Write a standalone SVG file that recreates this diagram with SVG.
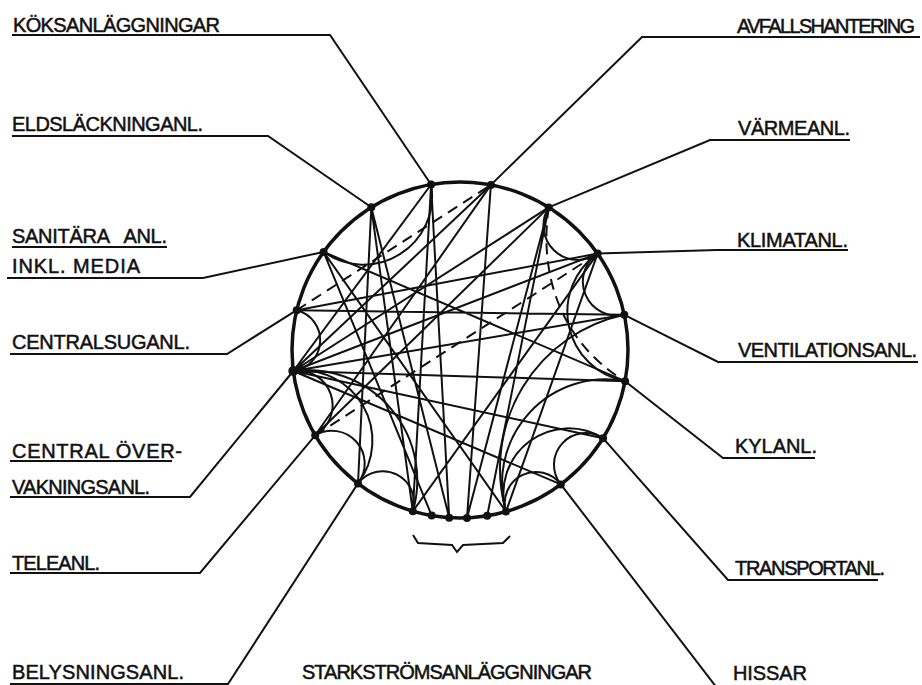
<svg xmlns="http://www.w3.org/2000/svg" width="922" height="685" viewBox="0 0 922 685">
<style>
.t{font-family:"Liberation Sans","DejaVu Sans",sans-serif;font-size:20px;fill:#111;stroke:#111;stroke-width:0.5;}
.ld{fill:none;stroke:#111;stroke-width:2;}
.c{fill:none;stroke:#111;stroke-width:2;}
.d{fill:none;stroke:#111;stroke-width:2;stroke-dasharray:11 7;}
.n{fill:#111;}
</style>
<rect width="922" height="685" fill="#fff"/>
<circle id="ring" cx="460" cy="350" r="168" fill="none" stroke="#111" stroke-width="3.5"/>
<g id="connectors">
<!-- hub chords -->
<path class="c" d="M293.3,371L431.1,184.5M293.3,371L490.9,184.9M293.3,371L548.7,207.4M293.3,371L597.6,253.6M293.3,371L624.3,314.8M293.3,371L625.1,381.2M293.3,371L603,438.2M293.3,371L560.8,484.4"/>
<!-- other chords -->
<path class="c" d="M323.6,251.9L431.7,515.6M323.6,251.9L506,511.6M323.6,251.9L625.1,381.2M371.3,207.3L358,483.4M371.3,207.3L449.2,517.7M371.3,207.3L412.8,511.3M431.1,184.5L449.2,517.7M431.1,184.5L412.8,511.3M490.9,184.9L467,517.9M490.9,184.9L315.2,435.3M548.7,207.4L487.2,515.8M548.7,207.4L467,517.9M548.7,207.4L315.2,435.3M597.6,253.6L412.8,511.3M597.6,253.6L506,511.6M597.6,253.6L296.7,310.2M624.3,314.8L296.7,310.2"/>
<!-- arcs -->
<path class="c" d="M323.6,251.9A68.6,68.6 0 0 0 431.1,184.5"/>
<path class="c" d="M293.3,371A31,31 0 0 0 296.7,310.2"/>
<path class="c" d="M315.2,435.3A34.6,34.6 0 0 0 293.3,371"/>
<path class="c" d="M358,483.4A32.8,32.8 0 0 0 315.2,435.3"/>
<path class="c" d="M412.8,511.3A31.3,31.3 0 0 0 358,483.4"/>
<path class="c" d="M358,483.4A70.3,70.3 0 0 0 293.3,371"/>
<path class="c" d="M412.8,511.3A110.1,110.1 0 0 0 293.3,371"/>
<path class="c" d="M548.7,207.4A34.3,34.3 0 0 0 597.6,253.6"/>
<path class="c" d="M597.6,253.6A34,34 0 0 0 624.3,314.8"/>
<path class="c" d="M597.6,253.6A70.8,70.8 0 0 0 625.1,381.2"/>
<path class="c" d="M625.1,381.2A103.7,103.7 0 0 0 506,511.6"/>
<path class="c" d="M603,438.2A65.1,65.1 0 0 0 506,511.6"/>
<path class="c" d="M560.8,484.4A31.1,31.1 0 0 0 506,511.6"/>
<path class="c" d="M603,438.2A31.7,31.7 0 0 0 560.8,484.4"/>
<path class="c" d="M624.3,314.8A157.3,157.3 0 0 0 506,511.6"/>
<!-- dashed -->
<path class="d" d="M296.7,310.2L490.9,184.9M315.2,435.3L597.6,253.6M548.7,207.4C538,280 565,345 625.1,381.2"/>
<!-- leaders -->
<path class="ld" d="M12,35H330L431.1,184.5"/>
<path class="ld" d="M12,136H268L371.3,207.3"/>
<path class="ld" d="M12,247H167M7,278H203L323.6,251.9"/>
<path class="ld" d="M10,354H227L296.7,310.2"/>
<path class="ld" d="M10,461H172M10,497H190L293.3,371"/>
<path class="ld" d="M10,573H200L315.2,435.3"/>
<path class="ld" d="M10,684H228L358,483.4"/>
<path class="ld" d="M920,37H642L490.9,184.9"/>
<path class="ld" d="M850,140H710L548.7,207.4"/>
<path class="ld" d="M848,250H717L597.6,253.6"/>
<path class="ld" d="M918,362H718L624.3,314.8"/>
<path class="ld" d="M815,458H723L625.1,381.2"/>
<path class="ld" d="M878,580H728L603,438.2"/>
<path class="ld" d="M807,688H717L560.8,484.4"/>
<path class="ld" d="M413,535L418,543L452,545L457,552L463,545L503,543L510,536"/>
</g>
<g id="n-kok"><circle class="n" cx="431.1" cy="184.5" r="4"/><text class="t" x="13" y="32" textLength="207">KÖKSANLÄGGNINGAR</text></g>
<g id="n-eld"><circle class="n" cx="371.3" cy="207.3" r="4"/><text class="t" x="12" y="131" textLength="191">ELDSLÄCKNINGANL.</text></g>
<g id="n-san"><circle class="n" cx="323.6" cy="251.9" r="4"/><text class="t" x="12" y="243" textLength="155" xml:space="preserve">SANITÄRA   ANL.</text><text class="t" x="12" y="273" textLength="128">INKL. MEDIA</text></g>
<g id="n-csug"><circle class="n" cx="296.7" cy="310.2" r="4"/><text class="t" x="12" y="349" textLength="178">CENTRALSUGANL.</text></g>
<g id="n-cov"><circle class="n" cx="293.3" cy="371" r="5"/><text class="t" x="12" y="458" textLength="170">CENTRAL ÖVER-</text><text class="t" x="12" y="494" textLength="138">VAKNINGSANL.</text></g>
<g id="n-tele"><circle class="n" cx="315.2" cy="435.3" r="4"/><text class="t" x="12" y="570" textLength="88">TELEANL.</text></g>
<g id="n-bel"><circle class="n" cx="358" cy="483.4" r="4"/><text class="t" x="12" y="679" textLength="172">BELYSNINGSANL.</text></g>
<g id="n-stark"><circle class="n" cx="412.8" cy="511.3" r="4"/><circle class="n" cx="431.7" cy="515.6" r="4"/><circle class="n" cx="449.2" cy="517.7" r="4"/><circle class="n" cx="467" cy="517.9" r="4"/><circle class="n" cx="487.2" cy="515.8" r="4"/><circle class="n" cx="506" cy="511.6" r="4"/><text class="t" x="302" y="679" textLength="290">STARKSTRÖMSANLÄGGNINGAR</text></g>
<g id="n-avf"><circle class="n" cx="490.9" cy="184.9" r="4"/><text class="t" x="737" y="33" textLength="178">AVFALLSHANTERING</text></g>
<g id="n-varme"><circle class="n" cx="548.7" cy="207.4" r="4"/><text class="t" x="738" y="135" textLength="112">VÄRMEANL.</text></g>
<g id="n-klimat"><circle class="n" cx="597.6" cy="253.6" r="4"/><text class="t" x="737" y="247" textLength="111">KLIMATANL.</text></g>
<g id="n-vent"><circle class="n" cx="624.3" cy="314.8" r="4"/><text class="t" x="738" y="357" textLength="179">VENTILATIONSANL.</text></g>
<g id="n-kyl"><circle class="n" cx="625.1" cy="381.2" r="4"/><text class="t" x="735" y="453" textLength="82">KYLANL.</text></g>
<g id="n-transp"><circle class="n" cx="603" cy="438.2" r="4"/><text class="t" x="735" y="575" textLength="150">TRANSPORTANL.</text></g>
<g id="n-hiss"><circle class="n" cx="560.8" cy="484.4" r="4"/><text class="t" x="733" y="680" textLength="74">HISSAR</text></g>
</svg>
